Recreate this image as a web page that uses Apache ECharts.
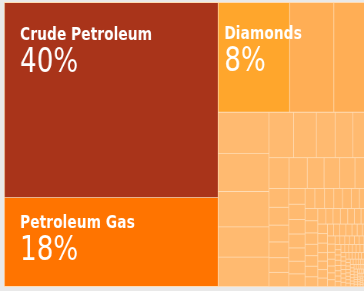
<!DOCTYPE html>
<html>
<head>
<meta charset="utf-8">
<script src="https://cdn.jsdelivr.net/npm/echarts@6/dist/echarts.min.js"></script>
<style>
  html, body { margin: 0; padding: 0; background: #e9e9e9; overflow: hidden; }
  /* the source picture is squeezed sideways, so draw wide and squeeze */
  #main { width: 473px; height: 291px; transform: scaleX(0.76956); transform-origin: 0 0; }
</style>
</head>
<body>
<div id="main"></div>
<script>
// shares of exports, in %
var labeledNames = ['Crude Petroleum', 'Petroleum Gas', 'Diamonds'];
var labeledShare = [40.4, 18.4, 7.6];
var otherShare = [
  4.7, 3.6,
  2.02, 1.88, 1.74, 1.49, 1.45,
  1.08, 1.0, 0.82, 0.78, 0.65,
  0.6, 0.54, 0.5, 0.47, 0.45, 0.38,
  0.36, 0.34, 0.32, 0.30, 0.28, 0.27, 0.25, 0.24, 0.23, 0.22,
  0.21, 0.20, 0.19, 0.18, 0.17, 0.16, 0.15, 0.15, 0.14, 0.13,
  0.2, 0.19, 0.17, 0.16, 0.14, 0.12, 0.11, 0.1, 0.09, 0.08, 0.07, 0.06,
  0.13, 0.12, 0.11, 0.11, 0.10, 0.10, 0.09, 0.09, 0.08, 0.08,
  0.08, 0.07, 0.07, 0.07, 0.06, 0.06, 0.06, 0.06, 0.05, 0.05,
  0.05, 0.05, 0.05, 0.04, 0.04, 0.04, 0.04, 0.04, 0.04, 0.03,
  0.03, 0.03, 0.03, 0.03, 0.03, 0.03, 0.03, 0.03, 0.03, 0.03,
  0.03, 0.03, 0.03, 0.03, 0.03, 0.02, 0.02, 0.02, 0.02, 0.02,
  0.02, 0.02, 0.02, 0.02, 0.02, 0.02, 0.02, 0.02, 0.02, 0.02,
  0.015, 0.015, 0.015, 0.015, 0.015, 0.015, 0.015, 0.015, 0.015, 0.015,
  0.012, 0.012, 0.012, 0.012, 0.012, 0.012, 0.012, 0.012, 0.012, 0.012,
  0.01, 0.01, 0.01, 0.01, 0.01, 0.01, 0.01, 0.01, 0.01, 0.01,
  0.008, 0.008, 0.008, 0.008, 0.008, 0.008, 0.008, 0.008, 0.008, 0.008,
  0.006, 0.006, 0.006, 0.006, 0.006, 0.006, 0.006, 0.006, 0.006, 0.006,
  0.005, 0.005, 0.005, 0.005, 0.005, 0.005, 0.005, 0.005, 0.005, 0.005,
  0.004, 0.004, 0.004, 0.004, 0.004
];

var labeledColors = ['#a9341a', '#ff7400', '#ffa62c'];
var labelOffsets = [[20, 22.5], [20, 15], [7.5, 21]];

var data = labeledNames.map(function (name, i) {
  return {
    name: name,
    value: labeledShare[i],
    itemStyle: { color: labeledColors[i] },
    label: {
      show: true,
      position: labelOffsets[i]
    }
  };
}).concat(otherShare.map(function (v, i) {
  return {
    name: '',
    value: v,
    itemStyle: { color: i < 2 ? '#ffae55' : '#ffba70' }
  };
}));

var chart = echarts.init(document.getElementById('main'), null, { renderer: 'canvas' });

chart.setOption({
  animation: false,
  series: [{
    type: 'treemap',
    left: 5.2,
    top: 2,
    bottom: 4,
    width: 473,
    roam: false,
    nodeClick: false,
    silent: true,
    sort: 'desc',
    visibleMin: 0,
    breadcrumb: { show: false },
    itemStyle: {
      borderWidth: 0.45,
      borderColor: '#ffdcb4',
      gapWidth: 0
    },
    label: {
      show: false,
      padding: 0,
      overflow: 'none',
      color: '#fff',
      formatter: function (p) {
        return '{n|' + p.name + '}\n{v|' + Math.round(p.value) + '%}';
      },
      rich: {
        n: { fontFamily: 'DejaVu Sans', fontWeight: 'bold', fontSize: 18, lineHeight: 20, color: '#fff' },
        v: { fontFamily: 'DejaVu Sans', fontSize: 34, lineHeight: 36, color: '#fff' }
      }
    },
    upperLabel: { show: false },
    emphasis: { disabled: true },
    data: data
  }]
});
</script>
</body>
</html>
